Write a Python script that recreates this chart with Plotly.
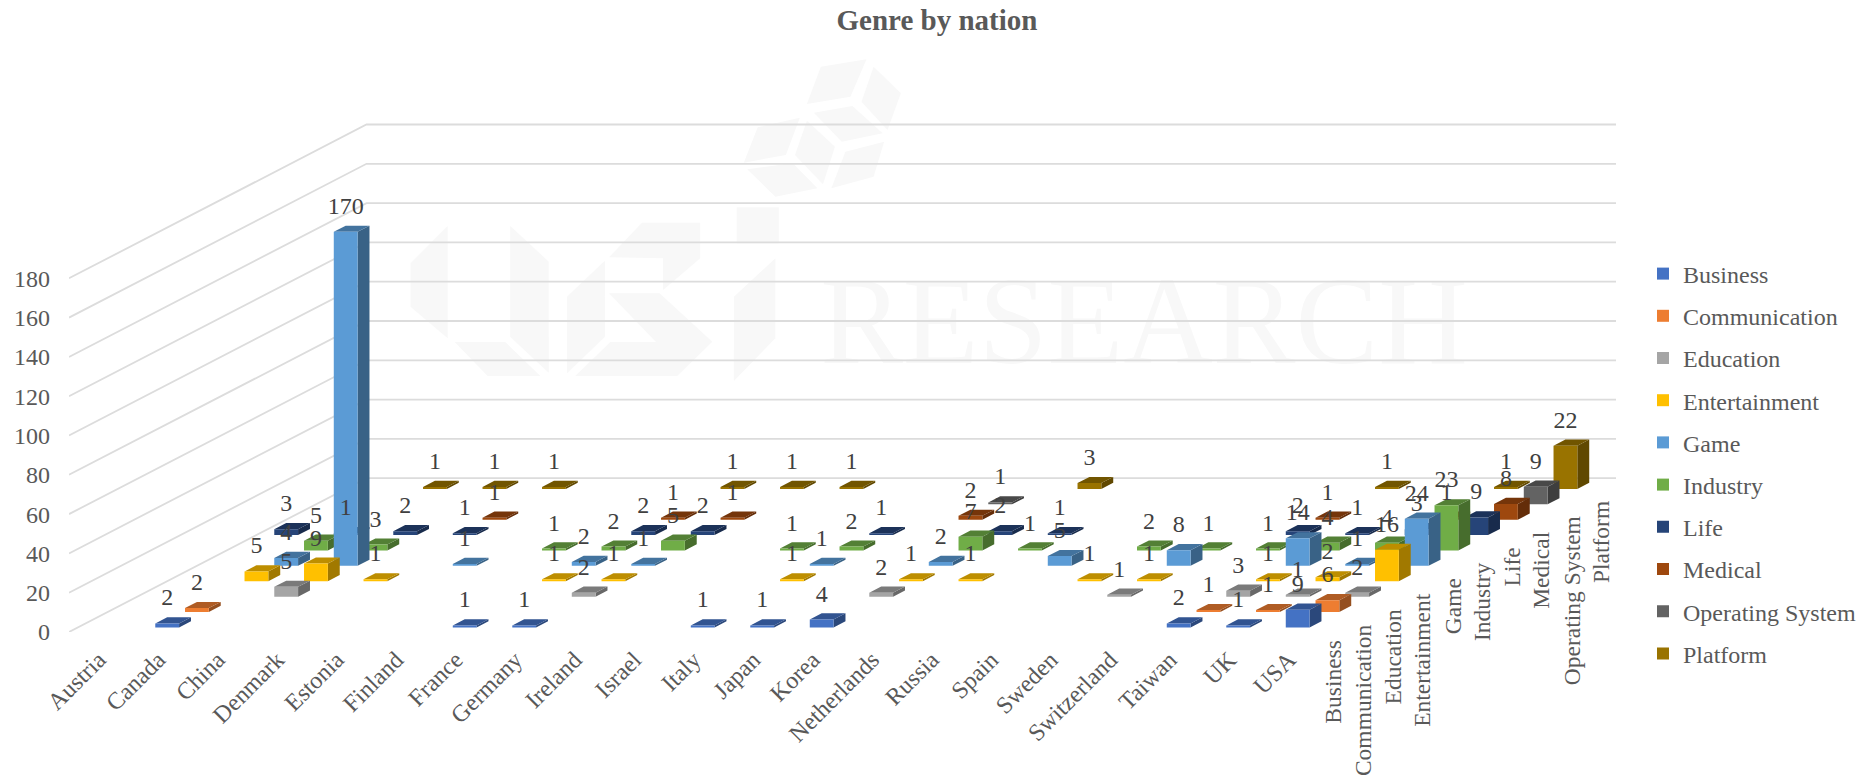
import plotly.graph_objects as go

TITLE = "Genre by nation"
countries = ["Austria", "Canada", "China", "Denmark", "Estonia", "Finland", "France",
             "Germany", "Ireland", "Israel", "Italy", "Japan", "Korea", "Netherlands",
             "Russia", "Spain", "Sweden", "Switzerland", "Taiwan", "UK", "USA"]
series_names = ["Business", "Communication", "Education", "Entertainment", "Game",
                "Industry", "Life", "Medical", "Operating System", "Platform"]
value_ticks = [0, 20, 40, 60, 80, 100, 120, 140, 160, 180]

# One value per country, in the order of `countries`; 0 means no bar and no label.
business =      [0, 2, 0, 0, 0, 0, 1, 1, 0, 0, 1, 1, 4, 0, 0, 0, 0, 0, 2, 1, 9]
communication = [0, 2, 0, 0, 0, 0, 0, 0, 0, 0, 0, 0, 0, 0, 0, 0, 0, 0, 1, 1, 6]
education =     [0, 0, 5, 0, 0, 0, 0, 2, 0, 0, 0, 0, 2, 0, 0, 0, 1, 0, 3, 1, 2]
entertainment = [0, 5, 9, 1, 0, 0, 1, 1, 0, 0, 1, 0, 1, 1, 0, 1, 1, 0, 1, 2, 16]
game =          [0, 4, 170, 0, 1, 0, 2, 1, 0, 0, 1, 0, 2, 0, 5, 0, 8, 0, 14, 1, 24]
industry =      [0, 5, 3, 0, 0, 1, 2, 5, 0, 1, 2, 0, 7, 1, 0, 2, 1, 1, 4, 4, 23]
life =          [3, 1, 2, 1, 0, 0, 2, 2, 0, 0, 1, 0, 2, 1, 0, 0, 0, 2, 1, 3, 9]
medical =       [0, 0, 0, 1, 0, 0, 1, 1, 0, 0, 0, 2, 0, 0, 0, 0, 0, 1, 0, 1, 8]
operating =     [0, 0, 0, 0, 0, 0, 0, 0, 0, 0, 0, 1, 0, 0, 0, 0, 0, 0, 0, 0, 9]
platform =      [0, 1, 1, 1, 0, 0, 1, 1, 1, 0, 0, 0, 3, 0, 0, 0, 0, 1, 0, 1, 22]

series_values = [business, communication, education, entertainment, game,
                 industry, life, medical, operating, platform]
series_colors = ["#4472C4", "#ED7D31", "#A5A5A5", "#FFC000", "#5B9BD5",
                 "#70AD47", "#264478", "#9E480E", "#636363", "#997300"]

# Page geometry, in pixels.
WIDTH, HEIGHT = 1867, 778
M_L, M_R, M_T, M_B = 69, 251, 102, 146
PX_PER_VALUE = 1.965
plot_w = WIDTH - M_L - M_R
plot_h = HEIGHT - M_T - M_B

# Oblique projection of the 3-D category/series/value space onto the 2-D axes:
# one series step moves half a country to the right and lifts the floor.
DEPTH_X = 0.5
DEPTH_Y = 15.38 / PX_PER_VALUE
BAR_SIZE = 0.4
FLOOR_BACK_X = len(countries) + DEPTH_X * len(series_names)
FLOOR_BACK_Y = DEPTH_Y * len(series_names)
Y_TOP = plot_h / PX_PER_VALUE


def shade(hex_color, factor):
    r, g, b = (int(hex_color[i:i + 2], 16) for i in (1, 3, 5))
    return f"rgb({r * factor:.0f},{g * factor:.0f},{b * factor:.0f})"


def bar_faces(c, s, v):
    """Front, side and top polygons of one bar on the 2-D axes."""
    half = BAR_SIZE / 2
    x0 = c + 0.5 + DEPTH_X * (s + 0.5 - half) - half
    x1 = x0 + BAR_SIZE
    y0 = DEPTH_Y * (s + 0.5 - half)
    dx = DEPTH_X * BAR_SIZE
    dy = DEPTH_Y * BAR_SIZE
    front = [(x0, y0), (x1, y0), (x1, y0 + v), (x0, y0 + v), (x0, y0)]
    side = [(x1, y0), (x1 + dx, y0 + dy), (x1 + dx, y0 + dy + v), (x1, y0 + v), (x1, y0)]
    top = [(x0, y0 + v), (x1, y0 + v), (x1 + dx, y0 + dy + v), (x0 + dx, y0 + dy + v), (x0, y0 + v)]
    return front, side, top


def polygons_trace(polys, color):
    xs, ys = [], []
    for poly in polys:
        xs += [p[0] for p in poly] + [None]
        ys += [p[1] for p in poly] + [None]
    return go.Scatter(x=xs, y=ys, mode="lines", fill="toself", fillcolor=color,
                      line=dict(width=0, color=color), showlegend=False, hoverinfo="skip")


SERIF = "Liberation Serif"
fig = go.Figure()

# Legend entries, in reading order.
for name, color in zip(series_names, series_colors):
    fig.add_trace(go.Scatter(x=[None], y=[None], mode="markers", name=name, legendgroup=name,
                             marker=dict(symbol="square", size=12, color=color)))

# Faint brand name behind the plot.
px_x = lambda p: (p - M_L) / (plot_w / FLOOR_BACK_X)
px_y = lambda p: (HEIGHT - M_B - p) / PX_PER_VALUE
fig.add_trace(go.Scatter(x=[px_x(1144)], y=[px_y(332)], mode="text", text=["RESEARCH"],
                         textfont=dict(family=SERIF, size=124, color="#F8F8F8"),
                         showlegend=False, hoverinfo="skip", cliponaxis=False))

# Wall gridlines.
for v in value_ticks:
    fig.add_trace(go.Scatter(x=[0, DEPTH_X * len(series_names), FLOOR_BACK_X],
                             y=[v, v + FLOOR_BACK_Y, v + FLOOR_BACK_Y], mode="lines",
                             line=dict(color="#DCDCDC", width=1.8),
                             showlegend=False, hoverinfo="skip"))

# Bars, painted from the back row to the front row.
for s in reversed(range(len(series_names))):
    fronts, sides, tops = [], [], []
    for c, v in enumerate(series_values[s]):
        if v:
            f, d, t = bar_faces(c, s, v)
            fronts.append(f)
            sides.append(d)
            tops.append(t)
    base = series_colors[s]
    fig.add_trace(polygons_trace(sides, shade(base, 0.63)))
    fig.add_trace(polygons_trace(tops, shade(base, 0.74)))
    fig.add_trace(polygons_trace(fronts, base))

# Value labels sit above each bar's front face.
LABEL_LIFT = 24 / PX_PER_VALUE
for s in range(len(series_names)):
    xs, ys, texts = [], [], []
    for c, v in enumerate(series_values[s]):
        if v:
            xs.append(c + 0.5 + DEPTH_X * (s + 0.5 - BAR_SIZE / 2))
            ys.append(DEPTH_Y * (s + 0.5 - BAR_SIZE / 2) + v + LABEL_LIFT)
            texts.append(str(v))
    fig.add_trace(go.Scatter(x=xs, y=ys, mode="text", text=texts, textposition="middle center",
                             textfont=dict(family=SERIF, size=24, color="#404040"),
                             showlegend=False, hoverinfo="skip", cliponaxis=False))

# Series names along the right edge of the floor.
annotations = []
for s, name in enumerate(series_names):
    annotations.append(dict(x=len(countries) + DEPTH_X * (s + 0.5), y=DEPTH_Y * (s + 0.5),
                            xref="x", yref="y", text=name, textangle=-90, showarrow=False,
                            xanchor="center", yanchor="top", yshift=-13,
                            font=dict(family=SERIF, size=23.5, color="#595959")))

# Watermark emblem, outlined in page pixels.
EMBLEM = [
    [(600, 50), (665, 28), (642, 140), (580, 162)],
    [(675, 50), (714, 130), (695, 240), (658, 155)],
    [(590, 188), (645, 168), (688, 250), (630, 275)],
    [(510, 232), (570, 203), (550, 315), (490, 338)],
    [(580, 212), (620, 290), (603, 403), (563, 315)],
    [(635, 305), (690, 275), (675, 380), (615, 415)],
    [(495, 358), (560, 340), (595, 415), (535, 440)],
    [(480, 472), (540, 472), (540, 580), (480, 580)],
    [(15, 640), (68, 528), (68, 865), (15, 770)],
    [(157, 528), (212, 635), (212, 968), (157, 860)],
    [(78, 876), (150, 876), (200, 978), (125, 978)],
    [(238, 740), (292, 632), (292, 860), (238, 970)],
    [(345, 518), (428, 518), (428, 625), (375, 720), (375, 625), (298, 622)],
    [(298, 730), (370, 730), (445, 875), (395, 978), (250, 978), (300, 876), (365, 876)],
    [(476, 740), (535, 625), (535, 865), (476, 993)],
]
shapes = []
for poly in EMBLEM:
    # Paper coordinates are relative to the plot area.
    pts = [(400 + px / 1.4255, 50 + py / 3) for px, py in poly]
    pts = [((px - M_L) / plot_w, (HEIGHT - M_B - py) / plot_h) for px, py in pts]
    path = "M" + " L".join(f"{x:.4f},{y:.4f}" for x, y in pts) + " Z"
    shapes.append(dict(type="path", path=path, xref="paper", yref="paper", layer="below",
                       fillcolor="#F8F8F8", line=dict(width=0)))

fig.update_layout(
    width=WIDTH, height=HEIGHT,
    margin=dict(l=M_L, r=M_R, t=M_T, b=M_B, pad=0, autoexpand=False),
    paper_bgcolor="white", plot_bgcolor="rgba(0,0,0,0)",
    font=dict(family=SERIF, size=24, color="#595959"),
    title=dict(text=f"<b>{TITLE}</b>", x=937 / WIDTH, xref="container", xanchor="center",
               y=1 - 20 / HEIGHT, yref="container", yanchor="middle",
               font=dict(family=SERIF, size=29, color="#595959")),
    xaxis=dict(range=[0, FLOOR_BACK_X], tickmode="array",
               tickvals=[c + 0.5 for c in range(len(countries))], ticktext=countries,
               tickangle=-45, showgrid=False, zeroline=False, showline=False, ticks="",
               ticklabelstandoff=8, tickfont=dict(family=SERIF, size=24, color="#595959")),
    yaxis=dict(range=[0, Y_TOP], tickmode="array", tickvals=value_ticks,
               showgrid=False, zeroline=False, showline=False, ticks="", ticklabelstandoff=18,
               tickfont=dict(family=SERIF, size=24, color="#595959")),
    legend=dict(x=(1643 - M_L) / plot_w, xanchor="left", y=(HEIGHT - M_B - 251.5) / plot_h, yanchor="top",
                bgcolor="rgba(0,0,0,0)", tracegroupgap=8,
                font=dict(family=SERIF, size=24, color="#595959")),
    annotations=annotations,
    shapes=shapes,
)

fig.write_html("out.html")
